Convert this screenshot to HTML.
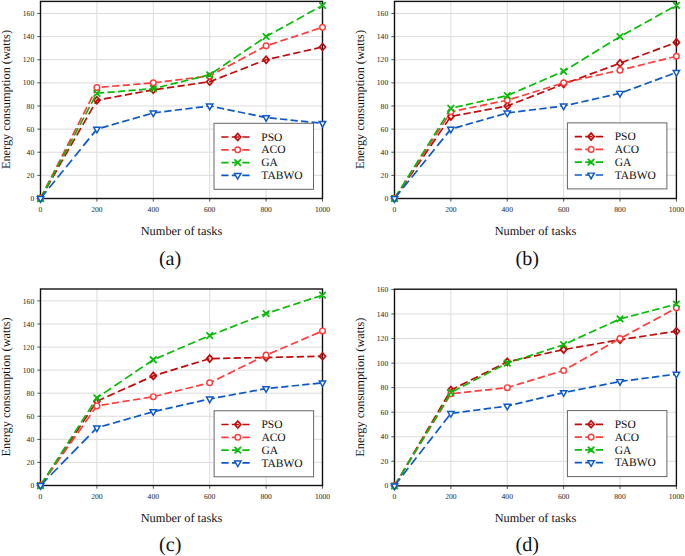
<!DOCTYPE html>
<html><head><meta charset="utf-8"><style>
html,body{margin:0;padding:0;background:#fff;}
body{width:685px;height:556px;overflow:hidden;font-family:"Liberation Serif", serif;}
svg{display:block;text-rendering:geometricPrecision;}
</style></head><body>
<svg width="685" height="556" viewBox="0 0 685 556" font-family='"Liberation Serif", serif'>
<rect width="685" height="556" fill="#fff"/>
<line x1="40.50" y1="175.37" x2="322.50" y2="175.37" stroke="#dcdcdc" stroke-width="1"/>
<line x1="40.50" y1="152.24" x2="322.50" y2="152.24" stroke="#dcdcdc" stroke-width="1"/>
<line x1="40.50" y1="129.12" x2="322.50" y2="129.12" stroke="#dcdcdc" stroke-width="1"/>
<line x1="40.50" y1="105.99" x2="322.50" y2="105.99" stroke="#dcdcdc" stroke-width="1"/>
<line x1="40.50" y1="82.86" x2="322.50" y2="82.86" stroke="#dcdcdc" stroke-width="1"/>
<line x1="40.50" y1="59.73" x2="322.50" y2="59.73" stroke="#dcdcdc" stroke-width="1"/>
<line x1="40.50" y1="36.60" x2="322.50" y2="36.60" stroke="#dcdcdc" stroke-width="1"/>
<line x1="40.50" y1="13.48" x2="322.50" y2="13.48" stroke="#dcdcdc" stroke-width="1"/>
<line x1="96.90" y1="1.40" x2="96.90" y2="198.50" stroke="#dcdcdc" stroke-width="1"/>
<line x1="153.30" y1="1.40" x2="153.30" y2="198.50" stroke="#dcdcdc" stroke-width="1"/>
<line x1="209.70" y1="1.40" x2="209.70" y2="198.50" stroke="#dcdcdc" stroke-width="1"/>
<line x1="266.10" y1="1.40" x2="266.10" y2="198.50" stroke="#dcdcdc" stroke-width="1"/>
<line x1="37.30" y1="198.50" x2="40.50" y2="198.50" stroke="#444" stroke-width="0.9"/>
<text x="34.20" y="201.10" font-size="7.6" text-anchor="end" fill="#222">0</text>
<line x1="37.30" y1="175.37" x2="40.50" y2="175.37" stroke="#444" stroke-width="0.9"/>
<text x="34.20" y="177.97" font-size="7.6" text-anchor="end" fill="#222">20</text>
<line x1="37.30" y1="152.24" x2="40.50" y2="152.24" stroke="#444" stroke-width="0.9"/>
<text x="34.20" y="154.84" font-size="7.6" text-anchor="end" fill="#222">40</text>
<line x1="37.30" y1="129.12" x2="40.50" y2="129.12" stroke="#444" stroke-width="0.9"/>
<text x="34.20" y="131.72" font-size="7.6" text-anchor="end" fill="#222">60</text>
<line x1="37.30" y1="105.99" x2="40.50" y2="105.99" stroke="#444" stroke-width="0.9"/>
<text x="34.20" y="108.59" font-size="7.6" text-anchor="end" fill="#222">80</text>
<line x1="37.30" y1="82.86" x2="40.50" y2="82.86" stroke="#444" stroke-width="0.9"/>
<text x="34.20" y="85.46" font-size="7.6" text-anchor="end" fill="#222">100</text>
<line x1="37.30" y1="59.73" x2="40.50" y2="59.73" stroke="#444" stroke-width="0.9"/>
<text x="34.20" y="62.33" font-size="7.6" text-anchor="end" fill="#222">120</text>
<line x1="37.30" y1="36.60" x2="40.50" y2="36.60" stroke="#444" stroke-width="0.9"/>
<text x="34.20" y="39.20" font-size="7.6" text-anchor="end" fill="#222">140</text>
<line x1="37.30" y1="13.48" x2="40.50" y2="13.48" stroke="#444" stroke-width="0.9"/>
<text x="34.20" y="16.08" font-size="7.6" text-anchor="end" fill="#222">160</text>
<line x1="40.50" y1="198.50" x2="40.50" y2="201.70" stroke="#444" stroke-width="0.9"/>
<text x="40.50" y="211.90" font-size="7.6" text-anchor="middle" fill="#222">0</text>
<line x1="96.90" y1="198.50" x2="96.90" y2="201.70" stroke="#444" stroke-width="0.9"/>
<text x="96.90" y="211.90" font-size="7.6" text-anchor="middle" fill="#222">200</text>
<line x1="153.30" y1="198.50" x2="153.30" y2="201.70" stroke="#444" stroke-width="0.9"/>
<text x="153.30" y="211.90" font-size="7.6" text-anchor="middle" fill="#222">400</text>
<line x1="209.70" y1="198.50" x2="209.70" y2="201.70" stroke="#444" stroke-width="0.9"/>
<text x="209.70" y="211.90" font-size="7.6" text-anchor="middle" fill="#222">600</text>
<line x1="266.10" y1="198.50" x2="266.10" y2="201.70" stroke="#444" stroke-width="0.9"/>
<text x="266.10" y="211.90" font-size="7.6" text-anchor="middle" fill="#222">800</text>
<line x1="322.50" y1="198.50" x2="322.50" y2="201.70" stroke="#444" stroke-width="0.9"/>
<text x="322.50" y="211.90" font-size="7.6" text-anchor="middle" fill="#222">1000</text>
<rect x="40.50" y="1.40" width="282.00" height="197.10" fill="none" stroke="#111" stroke-width="1.4"/>
<path d="M40.50 198.50L44.66 191.25 M46.54 187.98L50.70 180.73 M52.57 177.46L56.73 170.21 M58.61 166.94L62.77 159.69 M64.65 156.42L68.81 149.17 M70.68 145.90L74.84 138.65 M76.72 135.38L80.88 128.13 M82.75 124.86L86.91 117.61 M88.79 114.34L92.95 107.09 M94.83 103.82L96.90 100.21L100.54 99.54 M103.81 98.93L111.06 97.59 M114.33 96.99L121.58 95.65 M124.85 95.05L132.10 93.71 M135.37 93.11L142.62 91.77 M145.89 91.17L153.14 89.83 M156.41 89.35L163.66 88.31 M166.93 87.84L174.18 86.80 M177.45 86.33L184.70 85.29 M187.97 84.82L195.22 83.78 M198.49 83.31L205.74 82.27 M209.01 81.80L209.70 81.70L216.26 79.15 M219.53 77.88L226.78 75.05 M230.05 73.78L237.30 70.95 M240.57 69.68L247.82 66.85 M251.09 65.58L258.34 62.76 M261.61 61.48L266.10 59.73L268.86 59.11 M272.13 58.37L279.38 56.74 M282.65 56.00L289.90 54.37 M293.17 53.63L300.42 51.99 M303.69 51.25L310.94 49.62 M314.21 48.88L321.46 47.25" fill="none" stroke="#c20a0a" stroke-width="1.7" stroke-linejoin="round"/>
<path d="M40.50 195.00L43.55 198.50L40.50 202.00L37.45 198.50Z" fill="none" stroke="#c20a0a" stroke-width="1.7"/>
<path d="M96.90 96.71L99.95 100.21L96.90 103.71L93.85 100.21Z" fill="none" stroke="#c20a0a" stroke-width="1.7"/>
<path d="M153.30 86.30L156.35 89.80L153.30 93.30L150.25 89.80Z" fill="none" stroke="#c20a0a" stroke-width="1.7"/>
<path d="M209.70 78.20L212.75 81.70L209.70 85.20L206.65 81.70Z" fill="none" stroke="#c20a0a" stroke-width="1.7"/>
<path d="M266.10 56.23L269.15 59.73L266.10 63.23L263.05 59.73Z" fill="none" stroke="#c20a0a" stroke-width="1.7"/>
<path d="M322.50 43.51L325.55 47.01L322.50 50.51L319.45 47.01Z" fill="none" stroke="#c20a0a" stroke-width="1.7"/>
<path d="M40.50 198.50L44.18 191.25 M45.84 187.98L49.53 180.73 M51.19 177.46L54.87 170.21 M56.53 166.94L60.22 159.69 M61.88 156.42L65.56 149.17 M67.22 145.90L70.91 138.65 M72.57 135.38L76.25 128.13 M77.91 124.86L81.60 117.61 M83.26 114.34L86.94 107.09 M88.60 103.82L92.28 96.57 M93.95 93.30L96.90 87.49L98.34 87.37 M101.61 87.10L108.86 86.51 M112.13 86.24L119.38 85.64 M122.65 85.37L129.90 84.78 M133.17 84.51L140.42 83.92 M143.69 83.65L150.94 83.05 M154.21 82.75L161.46 81.86 M164.73 81.45L171.98 80.56 M175.25 80.16L182.50 79.27 M185.77 78.87L193.02 77.97 M196.29 77.57L203.54 76.68 M206.81 76.28L209.70 75.92L214.06 73.60 M217.33 71.86L224.58 67.99 M227.85 66.25L235.10 62.38 M238.37 60.64L245.62 56.78 M248.89 55.03L256.14 51.17 M259.41 49.42L266.10 45.86L266.66 45.67 M269.93 44.60L277.18 42.22 M280.45 41.15L287.70 38.77 M290.97 37.70L298.22 35.32 M301.49 34.25L308.74 31.87 M312.01 30.80L319.26 28.42" fill="none" stroke="#ff3c3c" stroke-width="1.7" stroke-linejoin="round"/>
<circle cx="40.50" cy="198.50" r="2.8" fill="#fff" stroke="#ff3c3c" stroke-width="1.45"/>
<circle cx="96.90" cy="87.49" r="2.8" fill="#fff" stroke="#ff3c3c" stroke-width="1.45"/>
<circle cx="153.30" cy="82.86" r="2.8" fill="#fff" stroke="#ff3c3c" stroke-width="1.45"/>
<circle cx="209.70" cy="75.92" r="2.8" fill="#fff" stroke="#ff3c3c" stroke-width="1.45"/>
<circle cx="266.10" cy="45.86" r="2.8" fill="#fff" stroke="#ff3c3c" stroke-width="1.45"/>
<circle cx="322.50" cy="27.35" r="2.8" fill="#fff" stroke="#ff3c3c" stroke-width="1.45"/>
<path d="M40.50 198.50L44.39 191.25 M46.14 187.98L50.02 180.73 M51.78 177.46L55.66 170.21 M57.41 166.94L61.30 159.69 M63.05 156.42L66.94 149.17 M68.69 145.90L72.58 138.65 M74.33 135.38L78.22 128.13 M79.97 124.86L83.85 117.61 M85.61 114.34L89.49 107.09 M91.24 103.82L95.13 96.57 M96.88 93.30L96.90 93.27L104.12 92.68 M107.39 92.41L114.64 91.81 M117.91 91.54L125.16 90.95 M128.43 90.68L135.68 90.09 M138.95 89.82L146.20 89.22 M149.47 88.96L153.30 88.64L156.72 87.80 M159.99 87.00L167.24 85.21 M170.51 84.41L177.76 82.62 M181.03 81.82L188.28 80.04 M191.55 79.23L198.80 77.45 M202.07 76.64L209.32 74.86 M212.59 72.81L219.84 67.91 M223.11 65.69L230.36 60.79 M233.63 58.58L240.88 53.67 M244.15 51.46L251.40 46.55 M254.67 44.34L261.92 39.43 M265.19 37.22L266.10 36.60L272.44 33.10 M275.71 31.29L282.96 27.27 M286.23 25.46L293.48 21.45 M296.75 19.64L304.00 15.62 M307.27 13.81L314.52 9.80 M317.79 7.99L322.50 5.38" fill="none" stroke="#08bb08" stroke-width="1.7" stroke-linejoin="round"/>
<path d="M37.75 195.75L43.25 201.25M37.75 201.25L43.25 195.75" stroke="#08bb08" stroke-width="1.8" stroke-linecap="round" fill="none"/>
<path d="M94.15 90.52L99.65 96.02M94.15 96.02L99.65 90.52" stroke="#08bb08" stroke-width="1.8" stroke-linecap="round" fill="none"/>
<path d="M150.55 85.89L156.05 91.39M150.55 91.39L156.05 85.89" stroke="#08bb08" stroke-width="1.8" stroke-linecap="round" fill="none"/>
<path d="M206.95 72.02L212.45 77.52M206.95 77.52L212.45 72.02" stroke="#08bb08" stroke-width="1.8" stroke-linecap="round" fill="none"/>
<path d="M263.35 33.85L268.85 39.35M263.35 39.35L268.85 33.85" stroke="#08bb08" stroke-width="1.8" stroke-linecap="round" fill="none"/>
<path d="M319.75 2.63L325.25 8.13M319.75 8.13L325.25 2.63" stroke="#08bb08" stroke-width="1.8" stroke-linecap="round" fill="none"/>
<path d="M40.50 198.50L46.39 191.25 M49.05 187.98L54.94 180.73 M57.60 177.46L63.50 170.21 M66.15 166.94L72.05 159.69 M74.71 156.42L80.60 149.17 M83.26 145.90L89.15 138.65 M91.81 135.38L96.90 129.12L97.89 128.83 M101.16 127.89L108.41 125.81 M111.68 124.87L118.93 122.79 M122.20 121.85L129.45 119.77 M132.72 118.84L139.97 116.75 M143.24 115.82L150.49 113.73 M153.76 112.87L161.01 111.98 M164.28 111.58L171.53 110.68 M174.80 110.28L182.05 109.39 M185.32 108.99L192.57 108.10 M195.84 107.69L203.09 106.80 M206.36 106.40L209.70 105.99L213.61 106.79 M216.88 107.46L224.13 108.95 M227.40 109.62L234.65 111.10 M237.92 111.77L245.17 113.26 M248.44 113.93L255.69 115.42 M258.96 116.09L266.10 117.55L266.21 117.56 M269.48 117.90L276.73 118.64 M280.00 118.98L287.25 119.72 M290.52 120.06L297.77 120.80 M301.04 121.13L308.29 121.88 M311.56 122.21L318.81 122.96 M322.08 123.29L322.50 123.33" fill="none" stroke="#0c58c8" stroke-width="1.7" stroke-linejoin="round"/>
<path d="M37.30 196.60L43.70 196.60L40.50 202.20Z" fill="#fff" stroke="#0c58c8" stroke-width="1.45" stroke-linejoin="miter"/>
<path d="M93.70 127.22L100.10 127.22L96.90 132.82Z" fill="#fff" stroke="#0c58c8" stroke-width="1.45" stroke-linejoin="miter"/>
<path d="M150.10 111.03L156.50 111.03L153.30 116.63Z" fill="#fff" stroke="#0c58c8" stroke-width="1.45" stroke-linejoin="miter"/>
<path d="M206.50 104.09L212.90 104.09L209.70 109.69Z" fill="#fff" stroke="#0c58c8" stroke-width="1.45" stroke-linejoin="miter"/>
<path d="M262.90 115.65L269.30 115.65L266.10 121.25Z" fill="#fff" stroke="#0c58c8" stroke-width="1.45" stroke-linejoin="miter"/>
<path d="M319.30 121.43L325.70 121.43L322.50 127.03Z" fill="#fff" stroke="#0c58c8" stroke-width="1.45" stroke-linejoin="miter"/>
<rect x="214.00" y="123.30" width="99.5" height="66" fill="#fff" stroke="#666" stroke-width="1"/>
<path d="M221.30 137.00L228.55 137.00 M231.82 137.00L239.07 137.00 M242.34 137.00L249.59 137.00" fill="none" stroke="#c20a0a" stroke-width="1.7" stroke-linejoin="round"/>
<path d="M237.70 133.50L240.75 137.00L237.70 140.50L234.65 137.00Z" fill="none" stroke="#c20a0a" stroke-width="1.7"/>
<text x="261.30" y="140.60" font-size="11.5" fill="#111">PSO</text>
<path d="M221.30 149.80L228.55 149.80 M231.82 149.80L239.07 149.80 M242.34 149.80L249.59 149.80" fill="none" stroke="#ff3c3c" stroke-width="1.7" stroke-linejoin="round"/>
<circle cx="237.70" cy="149.80" r="2.8" fill="#fff" stroke="#ff3c3c" stroke-width="1.45"/>
<text x="261.30" y="153.40" font-size="11.5" fill="#111">ACO</text>
<path d="M221.30 162.60L228.55 162.60 M231.82 162.60L239.07 162.60 M242.34 162.60L249.59 162.60" fill="none" stroke="#08bb08" stroke-width="1.7" stroke-linejoin="round"/>
<path d="M234.95 159.85L240.45 165.35M234.95 165.35L240.45 159.85" stroke="#08bb08" stroke-width="1.8" stroke-linecap="round" fill="none"/>
<text x="261.30" y="166.20" font-size="11.5" fill="#111">GA</text>
<path d="M221.30 175.40L228.55 175.40 M231.82 175.40L239.07 175.40 M242.34 175.40L249.59 175.40" fill="none" stroke="#0c58c8" stroke-width="1.7" stroke-linejoin="round"/>
<path d="M234.50 173.50L240.90 173.50L237.70 179.10Z" fill="#fff" stroke="#0c58c8" stroke-width="1.45" stroke-linejoin="miter"/>
<text x="261.30" y="179.00" font-size="11.5" fill="#111">TABWO</text>
<text x="181.50" y="234.90" font-size="12.35" text-anchor="middle" fill="#111">Number of tasks</text>
<text transform="translate(10.00,99.55) rotate(-90)" x="0" y="0" font-size="12.3" text-anchor="middle" fill="#111">Energy consumption (watts)</text>
<text x="170.10" y="265.30" font-size="20.2" text-anchor="middle" fill="#111">(a)</text>
<line x1="394.50" y1="175.37" x2="676.40" y2="175.37" stroke="#dcdcdc" stroke-width="1"/>
<line x1="394.50" y1="152.24" x2="676.40" y2="152.24" stroke="#dcdcdc" stroke-width="1"/>
<line x1="394.50" y1="129.12" x2="676.40" y2="129.12" stroke="#dcdcdc" stroke-width="1"/>
<line x1="394.50" y1="105.99" x2="676.40" y2="105.99" stroke="#dcdcdc" stroke-width="1"/>
<line x1="394.50" y1="82.86" x2="676.40" y2="82.86" stroke="#dcdcdc" stroke-width="1"/>
<line x1="394.50" y1="59.73" x2="676.40" y2="59.73" stroke="#dcdcdc" stroke-width="1"/>
<line x1="394.50" y1="36.60" x2="676.40" y2="36.60" stroke="#dcdcdc" stroke-width="1"/>
<line x1="394.50" y1="13.48" x2="676.40" y2="13.48" stroke="#dcdcdc" stroke-width="1"/>
<line x1="450.88" y1="1.40" x2="450.88" y2="198.50" stroke="#dcdcdc" stroke-width="1"/>
<line x1="507.26" y1="1.40" x2="507.26" y2="198.50" stroke="#dcdcdc" stroke-width="1"/>
<line x1="563.64" y1="1.40" x2="563.64" y2="198.50" stroke="#dcdcdc" stroke-width="1"/>
<line x1="620.02" y1="1.40" x2="620.02" y2="198.50" stroke="#dcdcdc" stroke-width="1"/>
<line x1="391.30" y1="198.50" x2="394.50" y2="198.50" stroke="#444" stroke-width="0.9"/>
<text x="388.20" y="201.10" font-size="7.6" text-anchor="end" fill="#222">0</text>
<line x1="391.30" y1="175.37" x2="394.50" y2="175.37" stroke="#444" stroke-width="0.9"/>
<text x="388.20" y="177.97" font-size="7.6" text-anchor="end" fill="#222">20</text>
<line x1="391.30" y1="152.24" x2="394.50" y2="152.24" stroke="#444" stroke-width="0.9"/>
<text x="388.20" y="154.84" font-size="7.6" text-anchor="end" fill="#222">40</text>
<line x1="391.30" y1="129.12" x2="394.50" y2="129.12" stroke="#444" stroke-width="0.9"/>
<text x="388.20" y="131.72" font-size="7.6" text-anchor="end" fill="#222">60</text>
<line x1="391.30" y1="105.99" x2="394.50" y2="105.99" stroke="#444" stroke-width="0.9"/>
<text x="388.20" y="108.59" font-size="7.6" text-anchor="end" fill="#222">80</text>
<line x1="391.30" y1="82.86" x2="394.50" y2="82.86" stroke="#444" stroke-width="0.9"/>
<text x="388.20" y="85.46" font-size="7.6" text-anchor="end" fill="#222">100</text>
<line x1="391.30" y1="59.73" x2="394.50" y2="59.73" stroke="#444" stroke-width="0.9"/>
<text x="388.20" y="62.33" font-size="7.6" text-anchor="end" fill="#222">120</text>
<line x1="391.30" y1="36.60" x2="394.50" y2="36.60" stroke="#444" stroke-width="0.9"/>
<text x="388.20" y="39.20" font-size="7.6" text-anchor="end" fill="#222">140</text>
<line x1="391.30" y1="13.48" x2="394.50" y2="13.48" stroke="#444" stroke-width="0.9"/>
<text x="388.20" y="16.08" font-size="7.6" text-anchor="end" fill="#222">160</text>
<line x1="394.50" y1="198.50" x2="394.50" y2="201.70" stroke="#444" stroke-width="0.9"/>
<text x="394.50" y="211.90" font-size="7.6" text-anchor="middle" fill="#222">0</text>
<line x1="450.88" y1="198.50" x2="450.88" y2="201.70" stroke="#444" stroke-width="0.9"/>
<text x="450.88" y="211.90" font-size="7.6" text-anchor="middle" fill="#222">200</text>
<line x1="507.26" y1="198.50" x2="507.26" y2="201.70" stroke="#444" stroke-width="0.9"/>
<text x="507.26" y="211.90" font-size="7.6" text-anchor="middle" fill="#222">400</text>
<line x1="563.64" y1="198.50" x2="563.64" y2="201.70" stroke="#444" stroke-width="0.9"/>
<text x="563.64" y="211.90" font-size="7.6" text-anchor="middle" fill="#222">600</text>
<line x1="620.02" y1="198.50" x2="620.02" y2="201.70" stroke="#444" stroke-width="0.9"/>
<text x="620.02" y="211.90" font-size="7.6" text-anchor="middle" fill="#222">800</text>
<line x1="676.40" y1="198.50" x2="676.40" y2="201.70" stroke="#444" stroke-width="0.9"/>
<text x="676.40" y="211.90" font-size="7.6" text-anchor="middle" fill="#222">1000</text>
<rect x="394.50" y="1.40" width="281.90" height="197.10" fill="none" stroke="#111" stroke-width="1.4"/>
<path d="M394.50 198.50L399.48 191.25 M401.72 187.98L406.70 180.73 M408.95 177.46L413.93 170.21 M416.17 166.94L421.15 159.69 M423.40 156.42L428.37 149.17 M430.62 145.90L435.60 138.65 M437.84 135.38L442.82 128.13 M445.07 124.86L450.05 117.61 M452.94 116.02L460.19 114.68 M463.46 114.07L470.71 112.74 M473.98 112.13L481.23 110.79 M484.50 110.19L491.75 108.85 M495.02 108.25L502.27 106.91 M505.54 106.31L507.26 105.99L512.79 103.83 M516.06 102.56L523.31 99.73 M526.58 98.46L533.83 95.64 M537.10 94.36L544.35 91.54 M547.62 90.26L554.87 87.44 M558.14 86.16L563.64 84.02L565.39 83.37 M568.66 82.16L575.91 79.49 M579.18 78.28L586.43 75.60 M589.70 74.40L596.95 71.72 M600.22 70.51L607.47 67.84 M610.74 66.63L617.99 63.95 M621.26 62.75L628.51 60.07 M631.78 58.86L639.03 56.18 M642.30 54.98L649.55 52.30 M652.82 51.09L660.07 48.42 M663.34 47.21L670.59 44.53 M673.86 43.33L676.40 42.39" fill="none" stroke="#c20a0a" stroke-width="1.7" stroke-linejoin="round"/>
<path d="M394.50 195.00L397.55 198.50L394.50 202.00L391.45 198.50Z" fill="none" stroke="#c20a0a" stroke-width="1.7"/>
<path d="M450.88 112.90L453.93 116.40L450.88 119.90L447.83 116.40Z" fill="none" stroke="#c20a0a" stroke-width="1.7"/>
<path d="M507.26 102.49L510.31 105.99L507.26 109.49L504.21 105.99Z" fill="none" stroke="#c20a0a" stroke-width="1.7"/>
<path d="M563.64 80.52L566.69 84.02L563.64 87.52L560.59 84.02Z" fill="none" stroke="#c20a0a" stroke-width="1.7"/>
<path d="M620.02 59.70L623.07 63.20L620.02 66.70L616.97 63.20Z" fill="none" stroke="#c20a0a" stroke-width="1.7"/>
<path d="M676.40 38.89L679.45 42.39L676.40 45.89L673.35 42.39Z" fill="none" stroke="#c20a0a" stroke-width="1.7"/>
<path d="M394.50 198.50L399.21 191.25 M401.34 187.98L406.05 180.73 M408.18 177.46L412.89 170.21 M415.02 166.94L419.73 159.69 M421.85 156.42L426.57 149.17 M428.69 145.90L433.41 138.65 M435.53 135.38L440.24 128.13 M442.37 124.86L447.08 117.61 M449.21 114.34L450.88 111.77L455.56 110.81 M458.83 110.14L466.08 108.65 M469.35 107.98L476.60 106.49 M479.87 105.82L487.12 104.34 M490.39 103.67L497.64 102.18 M500.91 101.51L507.26 100.21L508.16 99.93 M511.43 98.92L518.68 96.69 M521.95 95.69L529.20 93.46 M532.47 92.45L539.72 90.22 M542.99 89.21L550.24 86.98 M553.51 85.98L560.76 83.75 M564.03 82.77L571.28 81.14 M574.55 80.40L581.80 78.76 M585.07 78.02L592.32 76.39 M595.59 75.65L602.84 74.02 M606.11 73.28L613.36 71.64 M616.63 70.90L620.02 70.14L623.88 69.19 M627.15 68.38L634.40 66.60 M637.67 65.80L644.92 64.01 M648.19 63.21L655.44 61.42 M658.71 60.62L665.96 58.83 M669.23 58.03L676.40 56.26" fill="none" stroke="#ff3c3c" stroke-width="1.7" stroke-linejoin="round"/>
<circle cx="394.50" cy="198.50" r="2.8" fill="#fff" stroke="#ff3c3c" stroke-width="1.45"/>
<circle cx="450.88" cy="111.77" r="2.8" fill="#fff" stroke="#ff3c3c" stroke-width="1.45"/>
<circle cx="507.26" cy="100.21" r="2.8" fill="#fff" stroke="#ff3c3c" stroke-width="1.45"/>
<circle cx="563.64" cy="82.86" r="2.8" fill="#fff" stroke="#ff3c3c" stroke-width="1.45"/>
<circle cx="620.02" cy="70.14" r="2.8" fill="#fff" stroke="#ff3c3c" stroke-width="1.45"/>
<circle cx="676.40" cy="56.26" r="2.8" fill="#fff" stroke="#ff3c3c" stroke-width="1.45"/>
<path d="M394.50 198.50L399.03 191.25 M401.08 187.98L405.61 180.73 M407.65 177.46L412.18 170.21 M414.23 166.94L418.76 159.69 M420.80 156.42L425.33 149.17 M427.38 145.90L431.91 138.65 M433.95 135.38L438.49 128.13 M440.53 124.86L445.06 117.61 M447.11 114.34L450.88 108.30L452.09 108.03 M455.36 107.29L462.61 105.65 M465.88 104.92L473.13 103.28 M476.40 102.54L483.65 100.91 M486.92 100.17L494.17 98.53 M497.44 97.80L504.69 96.16 M507.96 95.28L515.21 92.16 M518.48 90.75L525.73 87.62 M529.00 86.22L536.25 83.09 M539.52 81.68L546.77 78.56 M550.04 77.15L557.29 74.03 M560.56 72.62L563.64 71.30L567.81 68.73 M571.08 66.72L578.33 62.26 M581.60 60.24L588.85 55.78 M592.12 53.77L599.37 49.31 M602.64 47.30L609.89 42.84 M613.16 40.82L620.02 36.60L620.41 36.39 M623.68 34.58L630.93 30.56 M634.20 28.75L641.45 24.74 M644.72 22.92L651.97 18.91 M655.24 17.10L662.49 13.08 M665.76 11.27L673.01 7.26 M676.28 5.45L676.40 5.38" fill="none" stroke="#08bb08" stroke-width="1.7" stroke-linejoin="round"/>
<path d="M391.75 195.75L397.25 201.25M391.75 201.25L397.25 195.75" stroke="#08bb08" stroke-width="1.8" stroke-linecap="round" fill="none"/>
<path d="M448.13 105.55L453.63 111.05M448.13 111.05L453.63 105.55" stroke="#08bb08" stroke-width="1.8" stroke-linecap="round" fill="none"/>
<path d="M504.51 92.83L510.01 98.33M504.51 98.33L510.01 92.83" stroke="#08bb08" stroke-width="1.8" stroke-linecap="round" fill="none"/>
<path d="M560.89 68.55L566.39 74.05M560.89 74.05L566.39 68.55" stroke="#08bb08" stroke-width="1.8" stroke-linecap="round" fill="none"/>
<path d="M617.27 33.85L622.77 39.35M617.27 39.35L622.77 33.85" stroke="#08bb08" stroke-width="1.8" stroke-linecap="round" fill="none"/>
<path d="M673.65 2.63L679.15 8.13M673.65 8.13L679.15 2.63" stroke="#08bb08" stroke-width="1.8" stroke-linecap="round" fill="none"/>
<path d="M394.50 198.50L400.39 191.25 M403.05 187.98L408.94 180.73 M411.60 177.46L417.49 170.21 M420.15 166.94L426.04 159.69 M428.69 156.42L434.58 149.17 M437.24 145.90L443.13 138.65 M445.79 135.38L450.88 129.12L451.87 128.83 M455.14 127.89L462.39 125.81 M465.66 124.87L472.91 122.79 M476.18 121.85L483.43 119.77 M486.70 118.83L493.95 116.75 M497.22 115.81L504.47 113.73 M507.74 112.87L514.99 111.98 M518.26 111.57L525.51 110.68 M528.78 110.28L536.03 109.39 M539.30 108.98L546.55 108.09 M549.82 107.69L557.07 106.80 M560.34 106.39L563.64 105.99L567.59 105.10 M570.86 104.36L578.11 102.72 M581.38 101.99L588.63 100.35 M591.90 99.61L599.15 97.98 M602.42 97.24L609.67 95.60 M612.94 94.87L620.02 93.27L620.19 93.21 M623.46 92.00L630.71 89.32 M633.98 88.12L641.23 85.44 M644.50 84.23L651.75 81.55 M655.02 80.35L662.27 77.67 M665.54 76.46L672.79 73.79 M676.06 72.58L676.40 72.45" fill="none" stroke="#0c58c8" stroke-width="1.7" stroke-linejoin="round"/>
<path d="M391.30 196.60L397.70 196.60L394.50 202.20Z" fill="#fff" stroke="#0c58c8" stroke-width="1.45" stroke-linejoin="miter"/>
<path d="M447.68 127.22L454.08 127.22L450.88 132.82Z" fill="#fff" stroke="#0c58c8" stroke-width="1.45" stroke-linejoin="miter"/>
<path d="M504.06 111.03L510.46 111.03L507.26 116.63Z" fill="#fff" stroke="#0c58c8" stroke-width="1.45" stroke-linejoin="miter"/>
<path d="M560.44 104.09L566.84 104.09L563.64 109.69Z" fill="#fff" stroke="#0c58c8" stroke-width="1.45" stroke-linejoin="miter"/>
<path d="M616.82 91.37L623.22 91.37L620.02 96.97Z" fill="#fff" stroke="#0c58c8" stroke-width="1.45" stroke-linejoin="miter"/>
<path d="M673.20 70.55L679.60 70.55L676.40 76.15Z" fill="#fff" stroke="#0c58c8" stroke-width="1.45" stroke-linejoin="miter"/>
<rect x="567.40" y="122.90" width="99.5" height="66" fill="#fff" stroke="#666" stroke-width="1"/>
<path d="M574.70 136.60L581.95 136.60 M585.22 136.60L592.47 136.60 M595.74 136.60L602.99 136.60" fill="none" stroke="#c20a0a" stroke-width="1.7" stroke-linejoin="round"/>
<path d="M591.10 133.10L594.15 136.60L591.10 140.10L588.05 136.60Z" fill="none" stroke="#c20a0a" stroke-width="1.7"/>
<text x="614.70" y="140.20" font-size="11.5" fill="#111">PSO</text>
<path d="M574.70 149.40L581.95 149.40 M585.22 149.40L592.47 149.40 M595.74 149.40L602.99 149.40" fill="none" stroke="#ff3c3c" stroke-width="1.7" stroke-linejoin="round"/>
<circle cx="591.10" cy="149.40" r="2.8" fill="#fff" stroke="#ff3c3c" stroke-width="1.45"/>
<text x="614.70" y="153.00" font-size="11.5" fill="#111">ACO</text>
<path d="M574.70 162.20L581.95 162.20 M585.22 162.20L592.47 162.20 M595.74 162.20L602.99 162.20" fill="none" stroke="#08bb08" stroke-width="1.7" stroke-linejoin="round"/>
<path d="M588.35 159.45L593.85 164.95M588.35 164.95L593.85 159.45" stroke="#08bb08" stroke-width="1.8" stroke-linecap="round" fill="none"/>
<text x="614.70" y="165.80" font-size="11.5" fill="#111">GA</text>
<path d="M574.70 175.00L581.95 175.00 M585.22 175.00L592.47 175.00 M595.74 175.00L602.99 175.00" fill="none" stroke="#0c58c8" stroke-width="1.7" stroke-linejoin="round"/>
<path d="M587.90 173.10L594.30 173.10L591.10 178.70Z" fill="#fff" stroke="#0c58c8" stroke-width="1.45" stroke-linejoin="miter"/>
<text x="614.70" y="178.60" font-size="11.5" fill="#111">TABWO</text>
<text x="535.45" y="234.90" font-size="12.35" text-anchor="middle" fill="#111">Number of tasks</text>
<text transform="translate(364.00,99.55) rotate(-90)" x="0" y="0" font-size="12.3" text-anchor="middle" fill="#111">Energy consumption (watts)</text>
<text x="527.30" y="265.30" font-size="20.2" text-anchor="middle" fill="#111">(b)</text>
<line x1="40.50" y1="462.43" x2="322.50" y2="462.43" stroke="#dcdcdc" stroke-width="1"/>
<line x1="40.50" y1="439.36" x2="322.50" y2="439.36" stroke="#dcdcdc" stroke-width="1"/>
<line x1="40.50" y1="416.28" x2="322.50" y2="416.28" stroke="#dcdcdc" stroke-width="1"/>
<line x1="40.50" y1="393.21" x2="322.50" y2="393.21" stroke="#dcdcdc" stroke-width="1"/>
<line x1="40.50" y1="370.14" x2="322.50" y2="370.14" stroke="#dcdcdc" stroke-width="1"/>
<line x1="40.50" y1="347.07" x2="322.50" y2="347.07" stroke="#dcdcdc" stroke-width="1"/>
<line x1="40.50" y1="324.00" x2="322.50" y2="324.00" stroke="#dcdcdc" stroke-width="1"/>
<line x1="40.50" y1="300.92" x2="322.50" y2="300.92" stroke="#dcdcdc" stroke-width="1"/>
<line x1="96.90" y1="289.00" x2="96.90" y2="485.50" stroke="#dcdcdc" stroke-width="1"/>
<line x1="153.30" y1="289.00" x2="153.30" y2="485.50" stroke="#dcdcdc" stroke-width="1"/>
<line x1="209.70" y1="289.00" x2="209.70" y2="485.50" stroke="#dcdcdc" stroke-width="1"/>
<line x1="266.10" y1="289.00" x2="266.10" y2="485.50" stroke="#dcdcdc" stroke-width="1"/>
<line x1="37.30" y1="485.50" x2="40.50" y2="485.50" stroke="#444" stroke-width="0.9"/>
<text x="34.20" y="488.10" font-size="7.6" text-anchor="end" fill="#222">0</text>
<line x1="37.30" y1="462.43" x2="40.50" y2="462.43" stroke="#444" stroke-width="0.9"/>
<text x="34.20" y="465.03" font-size="7.6" text-anchor="end" fill="#222">20</text>
<line x1="37.30" y1="439.36" x2="40.50" y2="439.36" stroke="#444" stroke-width="0.9"/>
<text x="34.20" y="441.96" font-size="7.6" text-anchor="end" fill="#222">40</text>
<line x1="37.30" y1="416.28" x2="40.50" y2="416.28" stroke="#444" stroke-width="0.9"/>
<text x="34.20" y="418.88" font-size="7.6" text-anchor="end" fill="#222">60</text>
<line x1="37.30" y1="393.21" x2="40.50" y2="393.21" stroke="#444" stroke-width="0.9"/>
<text x="34.20" y="395.81" font-size="7.6" text-anchor="end" fill="#222">80</text>
<line x1="37.30" y1="370.14" x2="40.50" y2="370.14" stroke="#444" stroke-width="0.9"/>
<text x="34.20" y="372.74" font-size="7.6" text-anchor="end" fill="#222">100</text>
<line x1="37.30" y1="347.07" x2="40.50" y2="347.07" stroke="#444" stroke-width="0.9"/>
<text x="34.20" y="349.67" font-size="7.6" text-anchor="end" fill="#222">120</text>
<line x1="37.30" y1="324.00" x2="40.50" y2="324.00" stroke="#444" stroke-width="0.9"/>
<text x="34.20" y="326.60" font-size="7.6" text-anchor="end" fill="#222">140</text>
<line x1="37.30" y1="300.92" x2="40.50" y2="300.92" stroke="#444" stroke-width="0.9"/>
<text x="34.20" y="303.52" font-size="7.6" text-anchor="end" fill="#222">160</text>
<line x1="40.50" y1="485.50" x2="40.50" y2="488.70" stroke="#444" stroke-width="0.9"/>
<text x="40.50" y="498.90" font-size="7.6" text-anchor="middle" fill="#222">0</text>
<line x1="96.90" y1="485.50" x2="96.90" y2="488.70" stroke="#444" stroke-width="0.9"/>
<text x="96.90" y="498.90" font-size="7.6" text-anchor="middle" fill="#222">200</text>
<line x1="153.30" y1="485.50" x2="153.30" y2="488.70" stroke="#444" stroke-width="0.9"/>
<text x="153.30" y="498.90" font-size="7.6" text-anchor="middle" fill="#222">400</text>
<line x1="209.70" y1="485.50" x2="209.70" y2="488.70" stroke="#444" stroke-width="0.9"/>
<text x="209.70" y="498.90" font-size="7.6" text-anchor="middle" fill="#222">600</text>
<line x1="266.10" y1="485.50" x2="266.10" y2="488.70" stroke="#444" stroke-width="0.9"/>
<text x="266.10" y="498.90" font-size="7.6" text-anchor="middle" fill="#222">800</text>
<line x1="322.50" y1="485.50" x2="322.50" y2="488.70" stroke="#444" stroke-width="0.9"/>
<text x="322.50" y="498.90" font-size="7.6" text-anchor="middle" fill="#222">1000</text>
<rect x="40.50" y="289.00" width="282.00" height="196.50" fill="none" stroke="#111" stroke-width="1.4"/>
<path d="M40.50 485.50L45.36 478.25 M47.55 474.98L52.40 467.73 M54.59 464.46L59.45 457.21 M61.64 453.94L66.49 446.69 M68.68 443.42L73.54 436.17 M75.73 432.90L80.58 425.65 M82.77 422.38L87.63 415.13 M89.82 411.86L94.67 404.61 M96.86 401.34L96.90 401.29L104.10 398.05 M107.37 396.58L114.62 393.31 M117.89 391.84L125.14 388.58 M128.41 387.11L135.66 383.85 M138.93 382.38L146.18 379.11 M149.45 377.64L153.30 375.91L156.70 374.87 M159.97 373.86L167.22 371.64 M170.49 370.63L177.74 368.41 M181.01 367.41L188.26 365.18 M191.53 364.18L198.78 361.96 M202.05 360.95L209.30 358.73 M212.57 358.55L219.82 358.40 M223.09 358.33L230.34 358.18 M233.61 358.12L240.86 357.97 M244.13 357.90L251.38 357.75 M254.65 357.68L261.90 357.54 M265.17 357.47L266.10 357.45L272.42 357.32 M275.69 357.25L282.94 357.11 M286.21 357.04L293.46 356.89 M296.73 356.82L303.98 356.68 M307.25 356.61L314.50 356.46 M317.77 356.39L322.50 356.30" fill="none" stroke="#c20a0a" stroke-width="1.7" stroke-linejoin="round"/>
<path d="M40.50 482.00L43.55 485.50L40.50 489.00L37.45 485.50Z" fill="none" stroke="#c20a0a" stroke-width="1.7"/>
<path d="M96.90 397.79L99.95 401.29L96.90 404.79L93.85 401.29Z" fill="none" stroke="#c20a0a" stroke-width="1.7"/>
<path d="M153.30 372.41L156.35 375.91L153.30 379.41L150.25 375.91Z" fill="none" stroke="#c20a0a" stroke-width="1.7"/>
<path d="M209.70 355.10L212.75 358.60L209.70 362.10L206.65 358.60Z" fill="none" stroke="#c20a0a" stroke-width="1.7"/>
<path d="M266.10 353.95L269.15 357.45L266.10 360.95L263.05 357.45Z" fill="none" stroke="#c20a0a" stroke-width="1.7"/>
<path d="M322.50 352.80L325.55 356.30L322.50 359.80L319.45 356.30Z" fill="none" stroke="#c20a0a" stroke-width="1.7"/>
<path d="M40.50 485.50L45.64 478.25 M47.95 474.98L53.09 467.73 M55.41 464.46L60.55 457.21 M62.86 453.94L68.00 446.69 M70.32 443.42L75.45 436.17 M77.77 432.90L82.91 425.65 M85.22 422.38L90.36 415.13 M92.68 411.86L96.90 405.90L98.19 405.69 M101.46 405.16L108.71 403.97 M111.98 403.43L119.23 402.25 M122.50 401.71L129.75 400.53 M133.02 399.99L140.27 398.80 M143.54 398.27L150.79 397.08 M154.06 396.49L161.31 394.71 M164.58 393.90L171.83 392.12 M175.10 391.32L182.35 389.54 M185.62 388.74L192.87 386.96 M196.14 386.16L203.39 384.38 M206.66 383.58L209.70 382.83L213.91 380.76 M217.18 379.16L224.43 375.60 M227.70 373.99L234.95 370.43 M238.22 368.83L245.47 365.27 M248.74 363.66L255.99 360.11 M259.26 358.50L266.10 355.14L266.51 354.97 M269.78 353.56L277.03 350.45 M280.30 349.04L287.55 345.93 M290.82 344.52L298.07 341.41 M301.34 340.01L308.59 336.89 M311.86 335.49L319.11 332.37 M322.38 330.97L322.50 330.92" fill="none" stroke="#ff3c3c" stroke-width="1.7" stroke-linejoin="round"/>
<circle cx="40.50" cy="485.50" r="2.8" fill="#fff" stroke="#ff3c3c" stroke-width="1.45"/>
<circle cx="96.90" cy="405.90" r="2.8" fill="#fff" stroke="#ff3c3c" stroke-width="1.45"/>
<circle cx="153.30" cy="396.67" r="2.8" fill="#fff" stroke="#ff3c3c" stroke-width="1.45"/>
<circle cx="209.70" cy="382.83" r="2.8" fill="#fff" stroke="#ff3c3c" stroke-width="1.45"/>
<circle cx="266.10" cy="355.14" r="2.8" fill="#fff" stroke="#ff3c3c" stroke-width="1.45"/>
<circle cx="322.50" cy="330.92" r="2.8" fill="#fff" stroke="#ff3c3c" stroke-width="1.45"/>
<path d="M40.50 485.50L45.16 478.25 M47.27 474.98L51.93 467.73 M54.03 464.46L58.70 457.21 M60.80 453.94L65.47 446.69 M67.57 443.42L72.23 436.17 M74.34 432.90L79.00 425.65 M81.10 422.38L85.77 415.13 M87.87 411.86L92.54 404.61 M94.64 401.34L96.90 397.83L100.64 395.30 M103.91 393.10L111.16 388.20 M114.43 386.00L121.68 381.10 M124.95 378.90L132.20 374.00 M135.47 371.79L142.72 366.90 M145.99 364.69L153.24 359.80 M156.51 358.38L163.76 355.27 M167.03 353.86L174.28 350.75 M177.55 349.34L184.80 346.23 M188.07 344.82L195.32 341.71 M198.59 340.31L205.84 337.19 M209.11 335.79L209.70 335.53L216.36 332.95 M219.63 331.67L226.88 328.86 M230.15 327.59L237.40 324.77 M240.67 323.50L247.92 320.68 M251.19 319.41L258.44 316.59 M261.71 315.32L266.10 313.61L268.96 312.68 M272.23 311.61L279.48 309.24 M282.75 308.17L290.00 305.79 M293.27 304.72L300.52 302.35 M303.79 301.28L311.04 298.91 M314.31 297.84L321.56 295.46" fill="none" stroke="#08bb08" stroke-width="1.7" stroke-linejoin="round"/>
<path d="M37.75 482.75L43.25 488.25M37.75 488.25L43.25 482.75" stroke="#08bb08" stroke-width="1.8" stroke-linecap="round" fill="none"/>
<path d="M94.15 395.08L99.65 400.58M94.15 400.58L99.65 395.08" stroke="#08bb08" stroke-width="1.8" stroke-linecap="round" fill="none"/>
<path d="M150.55 357.01L156.05 362.51M150.55 362.51L156.05 357.01" stroke="#08bb08" stroke-width="1.8" stroke-linecap="round" fill="none"/>
<path d="M206.95 332.78L212.45 338.28M206.95 338.28L212.45 332.78" stroke="#08bb08" stroke-width="1.8" stroke-linecap="round" fill="none"/>
<path d="M263.35 310.86L268.85 316.36M263.35 316.36L268.85 310.86" stroke="#08bb08" stroke-width="1.8" stroke-linecap="round" fill="none"/>
<path d="M319.75 292.41L325.25 297.91M319.75 297.91L325.25 292.41" stroke="#08bb08" stroke-width="1.8" stroke-linecap="round" fill="none"/>
<path d="M40.50 485.50L47.59 478.25 M50.79 474.98L57.88 467.73 M61.07 464.46L68.16 457.21 M71.36 453.94L78.45 446.69 M81.65 443.42L88.74 436.17 M91.93 432.90L96.90 427.82L99.07 427.20 M102.34 426.26L109.59 424.19 M112.86 423.25L120.11 421.17 M123.38 420.24L130.63 418.16 M133.90 417.22L141.15 415.15 M144.42 414.21L151.67 412.14 M154.94 411.30L162.19 409.67 M165.46 408.93L172.71 407.30 M175.98 406.57L183.23 404.94 M186.50 404.20L193.75 402.57 M197.02 401.83L204.27 400.20 M207.54 399.47L209.70 398.98L214.79 398.04 M218.06 397.44L225.31 396.11 M228.58 395.50L235.83 394.17 M239.10 393.57L246.35 392.23 M249.62 391.63L256.87 390.30 M260.14 389.69L266.10 388.60L267.39 388.47 M270.66 388.13L277.91 387.39 M281.18 387.06L288.43 386.31 M291.70 385.98L298.95 385.24 M302.22 384.90L309.47 384.16 M312.74 383.83L319.99 383.09" fill="none" stroke="#0c58c8" stroke-width="1.7" stroke-linejoin="round"/>
<path d="M37.30 483.60L43.70 483.60L40.50 489.20Z" fill="#fff" stroke="#0c58c8" stroke-width="1.45" stroke-linejoin="miter"/>
<path d="M93.70 425.92L100.10 425.92L96.90 431.52Z" fill="#fff" stroke="#0c58c8" stroke-width="1.45" stroke-linejoin="miter"/>
<path d="M150.10 409.77L156.50 409.77L153.30 415.37Z" fill="#fff" stroke="#0c58c8" stroke-width="1.45" stroke-linejoin="miter"/>
<path d="M206.50 397.08L212.90 397.08L209.70 402.68Z" fill="#fff" stroke="#0c58c8" stroke-width="1.45" stroke-linejoin="miter"/>
<path d="M262.90 386.70L269.30 386.70L266.10 392.30Z" fill="#fff" stroke="#0c58c8" stroke-width="1.45" stroke-linejoin="miter"/>
<path d="M319.30 380.93L325.70 380.93L322.50 386.53Z" fill="#fff" stroke="#0c58c8" stroke-width="1.45" stroke-linejoin="miter"/>
<rect x="214.10" y="410.80" width="99.5" height="66" fill="#fff" stroke="#666" stroke-width="1"/>
<path d="M221.40 424.50L228.65 424.50 M231.92 424.50L239.17 424.50 M242.44 424.50L249.69 424.50" fill="none" stroke="#c20a0a" stroke-width="1.7" stroke-linejoin="round"/>
<path d="M237.80 421.00L240.85 424.50L237.80 428.00L234.75 424.50Z" fill="none" stroke="#c20a0a" stroke-width="1.7"/>
<text x="261.40" y="428.10" font-size="11.5" fill="#111">PSO</text>
<path d="M221.40 437.30L228.65 437.30 M231.92 437.30L239.17 437.30 M242.44 437.30L249.69 437.30" fill="none" stroke="#ff3c3c" stroke-width="1.7" stroke-linejoin="round"/>
<circle cx="237.80" cy="437.30" r="2.8" fill="#fff" stroke="#ff3c3c" stroke-width="1.45"/>
<text x="261.40" y="440.90" font-size="11.5" fill="#111">ACO</text>
<path d="M221.40 450.10L228.65 450.10 M231.92 450.10L239.17 450.10 M242.44 450.10L249.69 450.10" fill="none" stroke="#08bb08" stroke-width="1.7" stroke-linejoin="round"/>
<path d="M235.05 447.35L240.55 452.85M235.05 452.85L240.55 447.35" stroke="#08bb08" stroke-width="1.8" stroke-linecap="round" fill="none"/>
<text x="261.40" y="453.70" font-size="11.5" fill="#111">GA</text>
<path d="M221.40 462.90L228.65 462.90 M231.92 462.90L239.17 462.90 M242.44 462.90L249.69 462.90" fill="none" stroke="#0c58c8" stroke-width="1.7" stroke-linejoin="round"/>
<path d="M234.60 461.00L241.00 461.00L237.80 466.60Z" fill="#fff" stroke="#0c58c8" stroke-width="1.45" stroke-linejoin="miter"/>
<text x="261.40" y="466.50" font-size="11.5" fill="#111">TABWO</text>
<text x="181.50" y="521.90" font-size="12.35" text-anchor="middle" fill="#111">Number of tasks</text>
<text transform="translate(10.00,386.85) rotate(-90)" x="0" y="0" font-size="12.3" text-anchor="middle" fill="#111">Energy consumption (watts)</text>
<text x="170.30" y="551.00" font-size="20.2" text-anchor="middle" fill="#111">(c)</text>
<line x1="394.50" y1="461.30" x2="676.40" y2="461.30" stroke="#dcdcdc" stroke-width="1"/>
<line x1="394.50" y1="436.75" x2="676.40" y2="436.75" stroke="#dcdcdc" stroke-width="1"/>
<line x1="394.50" y1="412.20" x2="676.40" y2="412.20" stroke="#dcdcdc" stroke-width="1"/>
<line x1="394.50" y1="387.65" x2="676.40" y2="387.65" stroke="#dcdcdc" stroke-width="1"/>
<line x1="394.50" y1="363.10" x2="676.40" y2="363.10" stroke="#dcdcdc" stroke-width="1"/>
<line x1="394.50" y1="338.55" x2="676.40" y2="338.55" stroke="#dcdcdc" stroke-width="1"/>
<line x1="394.50" y1="314.00" x2="676.40" y2="314.00" stroke="#dcdcdc" stroke-width="1"/>
<line x1="450.88" y1="289.20" x2="450.88" y2="485.85" stroke="#dcdcdc" stroke-width="1"/>
<line x1="507.26" y1="289.20" x2="507.26" y2="485.85" stroke="#dcdcdc" stroke-width="1"/>
<line x1="563.64" y1="289.20" x2="563.64" y2="485.85" stroke="#dcdcdc" stroke-width="1"/>
<line x1="620.02" y1="289.20" x2="620.02" y2="485.85" stroke="#dcdcdc" stroke-width="1"/>
<line x1="391.30" y1="485.85" x2="394.50" y2="485.85" stroke="#444" stroke-width="0.9"/>
<text x="388.20" y="488.45" font-size="7.6" text-anchor="end" fill="#222">0</text>
<line x1="391.30" y1="461.30" x2="394.50" y2="461.30" stroke="#444" stroke-width="0.9"/>
<text x="388.20" y="463.90" font-size="7.6" text-anchor="end" fill="#222">20</text>
<line x1="391.30" y1="436.75" x2="394.50" y2="436.75" stroke="#444" stroke-width="0.9"/>
<text x="388.20" y="439.35" font-size="7.6" text-anchor="end" fill="#222">40</text>
<line x1="391.30" y1="412.20" x2="394.50" y2="412.20" stroke="#444" stroke-width="0.9"/>
<text x="388.20" y="414.80" font-size="7.6" text-anchor="end" fill="#222">60</text>
<line x1="391.30" y1="387.65" x2="394.50" y2="387.65" stroke="#444" stroke-width="0.9"/>
<text x="388.20" y="390.25" font-size="7.6" text-anchor="end" fill="#222">80</text>
<line x1="391.30" y1="363.10" x2="394.50" y2="363.10" stroke="#444" stroke-width="0.9"/>
<text x="388.20" y="365.70" font-size="7.6" text-anchor="end" fill="#222">100</text>
<line x1="391.30" y1="338.55" x2="394.50" y2="338.55" stroke="#444" stroke-width="0.9"/>
<text x="388.20" y="341.15" font-size="7.6" text-anchor="end" fill="#222">120</text>
<line x1="391.30" y1="314.00" x2="394.50" y2="314.00" stroke="#444" stroke-width="0.9"/>
<text x="388.20" y="316.60" font-size="7.6" text-anchor="end" fill="#222">140</text>
<line x1="391.30" y1="289.45" x2="394.50" y2="289.45" stroke="#444" stroke-width="0.9"/>
<text x="388.20" y="292.05" font-size="7.6" text-anchor="end" fill="#222">160</text>
<line x1="394.50" y1="485.85" x2="394.50" y2="489.05" stroke="#444" stroke-width="0.9"/>
<text x="394.50" y="499.25" font-size="7.6" text-anchor="middle" fill="#222">0</text>
<line x1="450.88" y1="485.85" x2="450.88" y2="489.05" stroke="#444" stroke-width="0.9"/>
<text x="450.88" y="499.25" font-size="7.6" text-anchor="middle" fill="#222">200</text>
<line x1="507.26" y1="485.85" x2="507.26" y2="489.05" stroke="#444" stroke-width="0.9"/>
<text x="507.26" y="499.25" font-size="7.6" text-anchor="middle" fill="#222">400</text>
<line x1="563.64" y1="485.85" x2="563.64" y2="489.05" stroke="#444" stroke-width="0.9"/>
<text x="563.64" y="499.25" font-size="7.6" text-anchor="middle" fill="#222">600</text>
<line x1="620.02" y1="485.85" x2="620.02" y2="489.05" stroke="#444" stroke-width="0.9"/>
<text x="620.02" y="499.25" font-size="7.6" text-anchor="middle" fill="#222">800</text>
<line x1="676.40" y1="485.85" x2="676.40" y2="489.05" stroke="#444" stroke-width="0.9"/>
<text x="676.40" y="499.25" font-size="7.6" text-anchor="middle" fill="#222">1000</text>
<rect x="394.50" y="289.20" width="281.90" height="196.65" fill="none" stroke="#111" stroke-width="1.4"/>
<path d="M394.50 485.85L398.77 478.60 M400.69 475.33L404.96 468.08 M406.89 464.81L411.16 457.56 M413.08 454.29L417.35 447.04 M419.28 443.77L423.55 436.52 M425.47 433.25L429.74 426.00 M431.67 422.73L435.94 415.48 M437.86 412.21L442.13 404.96 M444.06 401.69L448.33 394.44 M450.25 391.17L450.88 390.11L457.06 387.01 M460.33 385.37L467.58 381.74 M470.85 380.10L478.10 376.47 M481.37 374.83L488.62 371.20 M491.89 369.57L499.14 365.94 M502.41 364.30L507.26 361.87L509.66 361.35 M512.93 360.64L520.18 359.06 M523.45 358.35L530.70 356.77 M533.98 356.06L541.23 354.48 M544.50 353.77L551.75 352.19 M555.01 351.48L562.26 349.90 M565.54 349.27L572.79 348.00 M576.06 347.44L583.31 346.17 M586.58 345.60L593.83 344.34 M597.10 343.77L604.35 342.51 M607.62 341.94L614.87 340.68 M618.13 340.11L620.02 339.78L625.38 338.96 M628.65 338.46L635.90 337.36 M639.17 336.86L646.42 335.75 M649.70 335.25L656.94 334.15 M660.21 333.65L667.46 332.55 M670.73 332.05L676.40 331.19" fill="none" stroke="#c20a0a" stroke-width="1.7" stroke-linejoin="round"/>
<path d="M394.50 482.35L397.55 485.85L394.50 489.35L391.45 485.85Z" fill="none" stroke="#c20a0a" stroke-width="1.7"/>
<path d="M450.88 386.61L453.93 390.11L450.88 393.61L447.83 390.11Z" fill="none" stroke="#c20a0a" stroke-width="1.7"/>
<path d="M507.26 358.37L510.31 361.87L507.26 365.37L504.21 361.87Z" fill="none" stroke="#c20a0a" stroke-width="1.7"/>
<path d="M563.64 346.10L566.69 349.60L563.64 353.10L560.59 349.60Z" fill="none" stroke="#c20a0a" stroke-width="1.7"/>
<path d="M620.02 336.28L623.07 339.78L620.02 343.28L616.97 339.78Z" fill="none" stroke="#c20a0a" stroke-width="1.7"/>
<path d="M676.40 327.69L679.45 331.19L676.40 334.69L673.35 331.19Z" fill="none" stroke="#c20a0a" stroke-width="1.7"/>
<path d="M394.50 485.85L398.94 478.60 M400.94 475.33L405.38 468.08 M407.39 464.81L411.83 457.56 M413.83 454.29L418.27 447.04 M420.27 443.77L424.71 436.52 M426.71 433.25L431.15 426.00 M433.16 422.73L437.60 415.48 M439.60 412.21L444.04 404.96 M446.04 401.69L450.48 394.44 M453.50 393.50L460.75 392.71 M464.02 392.36L471.27 391.57 M474.54 391.21L481.79 390.42 M485.06 390.07L492.31 389.28 M495.58 388.92L502.83 388.13 M506.10 387.78L507.26 387.65L513.35 385.79 M516.62 384.80L523.87 382.59 M527.14 381.59L534.39 379.38 M537.66 378.38L544.91 376.17 M548.18 375.18L555.43 372.97 M558.70 371.97L563.64 370.47L565.95 369.16 M569.22 367.31L576.47 363.20 M579.74 361.35L586.99 357.25 M590.26 355.40L597.51 351.29 M600.78 349.44L608.03 345.34 M611.30 343.49L618.55 339.38 M621.82 337.57L629.07 333.63 M632.34 331.85L639.59 327.90 M642.86 326.12L650.11 322.17 M653.38 320.39L660.63 316.45 M663.90 314.67L671.15 310.72 M674.42 308.94L676.40 307.86" fill="none" stroke="#ff3c3c" stroke-width="1.7" stroke-linejoin="round"/>
<circle cx="394.50" cy="485.85" r="2.8" fill="#fff" stroke="#ff3c3c" stroke-width="1.45"/>
<circle cx="450.88" cy="393.79" r="2.8" fill="#fff" stroke="#ff3c3c" stroke-width="1.45"/>
<circle cx="507.26" cy="387.65" r="2.8" fill="#fff" stroke="#ff3c3c" stroke-width="1.45"/>
<circle cx="563.64" cy="370.47" r="2.8" fill="#fff" stroke="#ff3c3c" stroke-width="1.45"/>
<circle cx="620.02" cy="338.55" r="2.8" fill="#fff" stroke="#ff3c3c" stroke-width="1.45"/>
<circle cx="676.40" cy="307.86" r="2.8" fill="#fff" stroke="#ff3c3c" stroke-width="1.45"/>
<path d="M394.50 485.85L398.88 478.60 M400.86 475.33L405.24 468.08 M407.22 464.81L411.60 457.56 M413.57 454.29L417.95 447.04 M419.93 443.77L424.31 436.52 M426.29 433.25L430.67 426.00 M432.65 422.73L437.03 415.48 M439.00 412.21L443.39 404.96 M445.36 401.69L449.74 394.44 M452.27 391.83L459.52 388.05 M462.79 386.34L470.04 382.55 M473.31 380.84L480.56 377.05 M483.83 375.34L491.08 371.55 M494.35 369.85L501.60 366.06 M504.87 364.35L507.26 363.10L512.12 361.51 M515.39 360.44L522.64 358.08 M525.91 357.01L533.16 354.64 M536.43 353.57L543.68 351.21 M546.95 350.14L554.20 347.77 M557.47 346.70L563.64 344.69L564.72 344.19 M567.99 342.70L575.24 339.38 M578.51 337.89L585.76 334.57 M589.03 333.08L596.28 329.76 M599.55 328.27L606.80 324.95 M610.07 323.46L617.32 320.14 M620.59 318.76L627.84 316.87 M631.11 316.01L638.36 314.12 M641.63 313.26L648.88 311.37 M652.15 310.52L659.40 308.62 M662.67 307.77L669.92 305.87 M673.19 305.02L676.40 304.18" fill="none" stroke="#08bb08" stroke-width="1.7" stroke-linejoin="round"/>
<path d="M391.75 483.10L397.25 488.60M391.75 488.60L397.25 483.10" stroke="#08bb08" stroke-width="1.8" stroke-linecap="round" fill="none"/>
<path d="M448.13 389.81L453.63 395.31M448.13 395.31L453.63 389.81" stroke="#08bb08" stroke-width="1.8" stroke-linecap="round" fill="none"/>
<path d="M504.51 360.35L510.01 365.85M504.51 365.85L510.01 360.35" stroke="#08bb08" stroke-width="1.8" stroke-linecap="round" fill="none"/>
<path d="M560.89 341.94L566.39 347.44M560.89 347.44L566.39 341.94" stroke="#08bb08" stroke-width="1.8" stroke-linecap="round" fill="none"/>
<path d="M617.27 316.16L622.77 321.66M617.27 321.66L622.77 316.16" stroke="#08bb08" stroke-width="1.8" stroke-linecap="round" fill="none"/>
<path d="M673.65 301.43L679.15 306.93M673.65 306.93L679.15 301.43" stroke="#08bb08" stroke-width="1.8" stroke-linecap="round" fill="none"/>
<path d="M394.50 485.85L400.14 478.60 M402.69 475.33L408.33 468.08 M410.88 464.81L416.52 457.56 M419.07 454.29L424.71 447.04 M427.26 443.77L432.90 436.52 M435.45 433.25L441.09 426.00 M443.64 422.73L449.28 415.48 M452.10 413.27L459.35 412.32 M462.62 411.89L469.87 410.95 M473.14 410.52L480.39 409.57 M483.66 409.15L490.91 408.20 M494.18 407.77L501.43 406.82 M504.70 406.40L507.26 406.06L511.95 404.94 M515.22 404.16L522.47 402.42 M525.74 401.64L532.99 399.90 M536.26 399.12L543.51 397.38 M546.78 396.60L554.03 394.86 M557.30 394.08L563.64 392.56L564.55 392.38 M567.82 391.74L575.07 390.32 M578.34 389.68L585.59 388.26 M588.86 387.62L596.11 386.20 M599.38 385.56L606.63 384.14 M609.90 383.50L617.15 382.08 M620.42 381.46L627.67 380.51 M630.94 380.09L638.19 379.14 M641.46 378.71L648.71 377.77 M651.98 377.34L659.23 376.39 M662.50 375.96L669.75 375.02 M673.02 374.59L676.40 374.15" fill="none" stroke="#0c58c8" stroke-width="1.7" stroke-linejoin="round"/>
<path d="M391.30 483.95L397.70 483.95L394.50 489.55Z" fill="#fff" stroke="#0c58c8" stroke-width="1.45" stroke-linejoin="miter"/>
<path d="M447.68 411.53L454.08 411.53L450.88 417.13Z" fill="#fff" stroke="#0c58c8" stroke-width="1.45" stroke-linejoin="miter"/>
<path d="M504.06 404.16L510.46 404.16L507.26 409.76Z" fill="#fff" stroke="#0c58c8" stroke-width="1.45" stroke-linejoin="miter"/>
<path d="M560.44 390.66L566.84 390.66L563.64 396.26Z" fill="#fff" stroke="#0c58c8" stroke-width="1.45" stroke-linejoin="miter"/>
<path d="M616.82 379.61L623.22 379.61L620.02 385.21Z" fill="#fff" stroke="#0c58c8" stroke-width="1.45" stroke-linejoin="miter"/>
<path d="M673.20 372.25L679.60 372.25L676.40 377.85Z" fill="#fff" stroke="#0c58c8" stroke-width="1.45" stroke-linejoin="miter"/>
<rect x="567.40" y="410.60" width="99.5" height="66" fill="#fff" stroke="#666" stroke-width="1"/>
<path d="M574.70 424.30L581.95 424.30 M585.22 424.30L592.47 424.30 M595.74 424.30L602.99 424.30" fill="none" stroke="#c20a0a" stroke-width="1.7" stroke-linejoin="round"/>
<path d="M591.10 420.80L594.15 424.30L591.10 427.80L588.05 424.30Z" fill="none" stroke="#c20a0a" stroke-width="1.7"/>
<text x="614.70" y="427.90" font-size="11.5" fill="#111">PSO</text>
<path d="M574.70 437.10L581.95 437.10 M585.22 437.10L592.47 437.10 M595.74 437.10L602.99 437.10" fill="none" stroke="#ff3c3c" stroke-width="1.7" stroke-linejoin="round"/>
<circle cx="591.10" cy="437.10" r="2.8" fill="#fff" stroke="#ff3c3c" stroke-width="1.45"/>
<text x="614.70" y="440.70" font-size="11.5" fill="#111">ACO</text>
<path d="M574.70 449.90L581.95 449.90 M585.22 449.90L592.47 449.90 M595.74 449.90L602.99 449.90" fill="none" stroke="#08bb08" stroke-width="1.7" stroke-linejoin="round"/>
<path d="M588.35 447.15L593.85 452.65M588.35 452.65L593.85 447.15" stroke="#08bb08" stroke-width="1.8" stroke-linecap="round" fill="none"/>
<text x="614.70" y="453.50" font-size="11.5" fill="#111">GA</text>
<path d="M574.70 462.70L581.95 462.70 M585.22 462.70L592.47 462.70 M595.74 462.70L602.99 462.70" fill="none" stroke="#0c58c8" stroke-width="1.7" stroke-linejoin="round"/>
<path d="M587.90 460.80L594.30 460.80L591.10 466.40Z" fill="#fff" stroke="#0c58c8" stroke-width="1.45" stroke-linejoin="miter"/>
<text x="614.70" y="466.30" font-size="11.5" fill="#111">TABWO</text>
<text x="535.45" y="522.25" font-size="12.35" text-anchor="middle" fill="#111">Number of tasks</text>
<text transform="translate(364.00,387.12) rotate(-90)" x="0" y="0" font-size="12.3" text-anchor="middle" fill="#111">Energy consumption (watts)</text>
<text x="527.30" y="551.00" font-size="20.2" text-anchor="middle" fill="#111">(d)</text>
</svg>
</body></html>
